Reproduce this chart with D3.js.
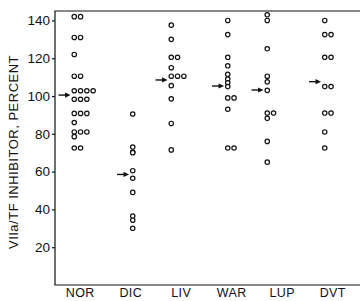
<!DOCTYPE html>
<html>
<head>
<meta charset="utf-8">
<script src="https://cdn.jsdelivr.net/npm/d3@7"></script>
<style>
  body { margin: 0; background: #fff; }
  text { font-family: "Liberation Sans", Arial, sans-serif; fill: #111; }
</style>
</head>
<body>
<div id="chart"></div>
<script>
// categories along the bottom
const categories = ["NOR", "DIC", "LIV", "WAR", "LUP", "DVT"];

// individual values (percent)
const norValues = [142, 142, 131, 131, 122, 110.5, 110.5, 102.8, 102.8, 102.8, 102.8,
                   98.3, 98.3, 98.3, 90.8, 90.8, 90.8, 86, 81, 81, 81, 78.5, 72.5, 72.5];
const dicValues = [90.5, 73, 70.3, 70, 60.5, 56.5, 49, 36.5, 34.3, 30];
const livValues = [137.5, 130, 120.5, 120.5, 115, 110.5, 110.5, 110.5, 105.5, 98.5, 85.5, 71.5];
const warValues = [140, 132.5, 120.5, 116, 111.5, 109, 107, 105, 99, 99, 93, 72.5, 72.5];
const lupValues = [143, 140, 125, 110.5, 107.5, 103, 91, 91, 88.2, 76, 65];
const dvtValues = [140, 132.5, 132.5, 120.5, 120.5, 105, 105, 91, 91, 81, 72.5];

// group means, shown with arrows
const means = [100.5, 58.5, 108.5, 105.3, 103.2, 107.6];

const yTicks = [20, 40, 60, 80, 100, 120, 140];
const yTitle = "VIIa/TF INHIBITOR, PERCENT";

const groups = [norValues, dicValues, livValues, warValues, lupValues, dvtValues];

// layout
const W = 360, H = 301;
const mLeft = 55, mRight = 358, mTop = 11, mBottom = 285;
const dotShift = [-6, 2, -10, -4, -15, -8];  // dot column vs label centre
const dotGap = 6.3;
const r = 2.2;

let svg = d3.select("#chart")
  .append("svg")
    .attr("width", W)
    .attr("height", H)
;

let x = d3.scaleBand()
    .domain(categories)
    .range([mLeft, mRight])
;

let y = d3.scaleLinear()
    .domain([0, 145])
    .range([mBottom, mTop])
;

// frame: left axis, top and bottom lines (no right side)
svg.append("path")
    .attr("d", `M${mRight + 2},${mTop}H${mLeft}V${mBottom}H${mRight + 2}`)
    .attr("fill", "none")
    .attr("stroke", "#111")
    .attr("stroke-width", 1.2)
;

// y axis ticks + labels
let yAxis = d3.axisLeft(y)
    .tickValues(yTicks)
    .tickSize(3)
    .tickPadding(2)
;
let gy = svg.append("g")
    .attr("transform", `translate(${mLeft},0)`)
    .call(yAxis)
;
gy.select(".domain").remove();
gy.selectAll(".tick line").attr("stroke", "#111").attr("stroke-width", 1.2);
gy.selectAll(".tick text")
    .attr("font-size", 13.5)
    .attr("font-family", "Liberation Sans, Arial, sans-serif")
    .attr("fill", "#111")
;

// x category labels
let xAxis = d3.axisBottom(x).tickSize(0).tickPadding(3);
let gx = svg.append("g")
    .attr("transform", `translate(0,${mBottom})`)
    .call(xAxis)
;
gx.select(".domain").remove();
gx.selectAll(".tick text")
    .attr("font-size", 12.5)
    .attr("font-family", "Liberation Sans, Arial, sans-serif")
    .attr("letter-spacing", 0.4)
    .attr("fill", "#111")
;

// y title
svg.append("text")
    .attr("transform", `translate(18,${(mTop + mBottom) / 2 + 4}) rotate(-90)`)
    .attr("text-anchor", "middle")
    .attr("font-size", 13)
    .attr("letter-spacing", 0.5)
    .text(yTitle)
;

// dots: equal values sit side by side
groups.forEach((vals, gi) => {
  let x0 = x(categories[gi]) + x.bandwidth() / 2 + dotShift[gi];
  let seen = {};
  let pts = vals.map(v => {
    let k = seen[v] || 0;
    seen[v] = k + 1;
    return { v: v, k: k };
  });
  svg.append("g")
    .selectAll("circle")
    .data(pts)
    .enter()
    .append("circle")
      .attr("cx", d => x0 + d.k * dotGap)
      .attr("cy", d => y(d.v))
      .attr("r", r)
      .attr("fill", "white")
      .attr("stroke", "#111")
      .attr("stroke-width", 1.2)
  ;

  // arrow to the mean
  let ay = y(means[gi]);
  let tip = x0 - r - 1.5;
  svg.append("line")
      .attr("x1", tip - 12)
      .attr("x2", tip - 4)
      .attr("y1", ay)
      .attr("y2", ay)
      .attr("stroke", "#111")
      .attr("stroke-width", 1.4)
  ;
  svg.append("path")
      .attr("d", `M${tip},${ay}L${tip - 5.5},${ay - 2.6}L${tip - 5.5},${ay + 2.6}Z`)
      .attr("fill", "#111")
  ;
});
</script>
</body>
</html>
